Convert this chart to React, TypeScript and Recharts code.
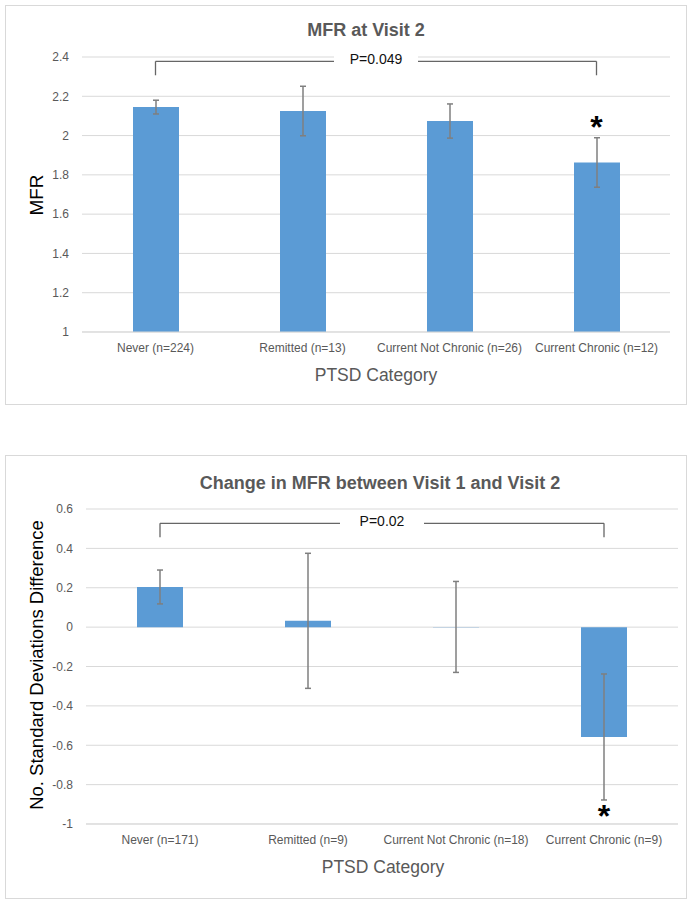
import React from 'react';
import {
  BarChart,
  Bar,
  XAxis,
  YAxis,
  CartesianGrid,
  ErrorBar,
  ReferenceLine,
  ReferenceDot,
} from 'recharts';

// ---- Chart 1: MFR at Visit 2 ----
const categories1 = ['Never (n=224)', 'Remitted (n=13)', 'Current Not Chronic (n=26)', 'Current Chronic (n=12)'];
const mfrValues = [2.145, 2.125, 2.074, 1.863];
const mfrErrors = [0.035, 0.126, 0.087, 0.126];
const yTicks1 = [1, 1.2, 1.4, 1.6, 1.8, 2, 2.2, 2.4];
const bracket1 = { low: 2.307, high: 2.378, text: 'P=0.049' };
const star1 = 2.066;

// ---- Chart 2: Change in MFR ----
const categories2 = ['Never (n=171)', 'Remitted (n=9)', 'Current Not Chronic (n=18)', 'Current Chronic (n=9)'];
const changeValues = [0.204, 0.032, 0.001, -0.558];
const changeErrors = [0.086, 0.343, 0.231, 0.32];
const yTicks2 = [-1, -0.8, -0.6, -0.4, -0.2, 0, 0.2, 0.4, 0.6];
const bracket2 = { low: 0.456, high: 0.527, text: 'P=0.02' };
const star2 = -0.94;

const data1 = categories1.map((c, i) => ({ name: c, value: mfrValues[i], err: mfrErrors[i] }));
const data2 = categories2.map((c, i) => ({ name: c, value: changeValues[i], err: changeErrors[i] }));

const FONT = "'Liberation Sans', Arial, sans-serif";
const GRAY = '#595959';
const GRID = '#d9d9d9';
const BAR = '#5b9bd5';
const ERR = '#7f7f7f';

const BracketLabel = (props: any) => {
  const { viewBox, text } = props;
  if (!viewBox) return null;
  const cx = viewBox.x + viewBox.width / 2;
  const cy = viewBox.y;
  const gap = 84;
  return (
    <g>
      <rect x={cx - gap / 2} y={cy - 11} width={gap} height={19} fill="#ffffff" />
      <text x={cx} y={cy + 3} textAnchor="middle" fontFamily={FONT} fontSize={14} fill="#111">
        {text}
      </text>
    </g>
  );
};

const Star = (props: any) => {
  const { cx, cy } = props;
  return (
    <text x={cx} y={cy + 15} textAnchor="middle" fontFamily={FONT} fontSize={32} fontWeight="bold" fill="#000">
      *
    </text>
  );
};

const tickStyle = { fontFamily: FONT, fontSize: 12, fill: GRAY };

function Panel(props: {
  data: any[];
  categories: string[];
  domain: [number, number];
  ticks: number[];
  bracket: { low: number; high: number; text: string };
  star: number;
  top: number;
  height: number;
  margin: { top: number; right: number; bottom: number; left: number };
  yAxisWidth: number;
}) {
  const { data, categories, domain, ticks, bracket, star, top, height, margin, yAxisWidth } = props;
  const first = categories[0];
  const last = categories[categories.length - 1];
  return (
    <div style={{ position: 'absolute', left: 0, top, width: 690, height }}>
      <BarChart width={690} height={height} data={data} margin={margin}>
        <CartesianGrid vertical={false} stroke={GRID} strokeWidth={1} />
        <XAxis
          dataKey="name"
          axisLine={{ stroke: GRID }}
          tickLine={false}
          tick={tickStyle}
          tickMargin={5}
          height={30}
          interval={0}
        />
        <YAxis
          type="number"
          domain={domain}
          ticks={ticks}
          axisLine={false}
          tickLine={false}
          tick={tickStyle}
          tickMargin={7}
          width={yAxisWidth}
          allowDataOverflow
        />
        <Bar dataKey="value" fill={BAR} barSize={46} isAnimationActive={false}>
          <ErrorBar dataKey="err" stroke={ERR} strokeWidth={1.5} width={3} />
        </Bar>
        <ReferenceLine
          segment={[{ x: first, y: bracket.low }, { x: first, y: bracket.high }]}
          stroke="#666"
          strokeWidth={1.3}
        />
        <ReferenceLine
          segment={[{ x: last, y: bracket.low }, { x: last, y: bracket.high }]}
          stroke="#666"
          strokeWidth={1.3}
        />
        <ReferenceLine
          segment={[{ x: first, y: bracket.high }, { x: last, y: bracket.high }]}
          stroke="#666"
          strokeWidth={1.3}
          label={<BracketLabel text={bracket.text} />}
        />
        <ReferenceDot x={last} y={star} r={0} shape={<Star />} />
      </BarChart>
    </div>
  );
}

export default function App() {
  return (
    <div style={{ position: 'absolute', left: 0, top: 0, width: 690, height: 906, background: '#fff' }}>
      {/* frames */}
      <div style={{ position: 'absolute', left: 5, top: 5, width: 680, height: 398, border: '1.5px solid #d9d9d9' }} />
      <div style={{ position: 'absolute', left: 5, top: 455, width: 680, height: 442, border: '1.5px solid #d9d9d9' }} />

      <Panel
        data={data1}
        categories={categories1}
        domain={[1, 2.4]}
        ticks={yTicks1}
        bracket={bracket1}
        star={star1}
        top={0}
        height={410}
        margin={{ top: 57, right: 20, bottom: 48, left: 0 }}
        yAxisWidth={82}
      />
      <Panel
        data={data2}
        categories={categories2}
        domain={[-1, 0.6]}
        ticks={yTicks2}
        bracket={bracket2}
        star={star2}
        top={440}
        height={460}
        margin={{ top: 69, right: 12, bottom: 46, left: 0 }}
        yAxisWidth={86}
      />

      {/* text overlay */}
      <svg width={690} height={906} style={{ position: 'absolute', left: 0, top: 0, pointerEvents: 'none' }}>
        <text x={366} y={36} textAnchor="middle" fontFamily={FONT} fontSize={18} fontWeight="bold" fill={GRAY}>
          MFR at Visit 2
        </text>
        <text x={376} y={381} textAnchor="middle" fontFamily={FONT} fontSize={17.5} fill={GRAY}>
          PTSD Category
        </text>
        <text
          x={0}
          y={0}
          transform="translate(43,195) rotate(-90)"
          textAnchor="middle"
          fontFamily={FONT}
          fontSize={19}
          fill="#000"
        >
          MFR
        </text>

        <text x={380} y={489} textAnchor="middle" fontFamily={FONT} fontSize={18} fontWeight="bold" fill={GRAY}>
          Change in MFR between Visit 1 and  Visit 2
        </text>
        <text x={383} y={873} textAnchor="middle" fontFamily={FONT} fontSize={17.5} fill={GRAY}>
          PTSD Category
        </text>
        <text
          x={0}
          y={0}
          transform="translate(43,665) rotate(-90)"
          textAnchor="middle"
          fontFamily={FONT}
          fontSize={18.5}
          fill="#000"
        >
          No. Standard Deviations Difference
        </text>
      </svg>
    </div>
  );
}
